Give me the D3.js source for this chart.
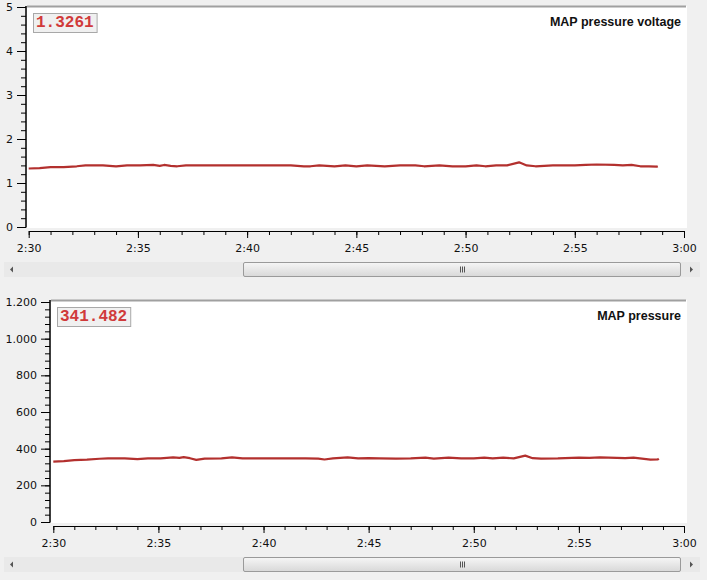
<!DOCTYPE html>
<html>
<head>
<meta charset="utf-8">
<script src="https://cdn.jsdelivr.net/npm/d3@7"></script>
<style>
  body { margin: 0; background: #f0f0f0; }
  svg { display: block; }
  .tick text { font-family: "DejaVu Sans", sans-serif; font-size: 11px; fill: #111; }
</style>
</head>
<body>
<div id="chart"></div>
<script>
// sample times, minutes after 2:30
const sampleMinutes = [0, 0.5, 1.0, 1.6, 2.2, 2.6, 3.4, 4.0, 4.5, 5.1, 5.7, 6.0, 6.2, 6.5, 6.8, 7.2,
  8.0, 8.5, 9.0, 10.0, 11.0, 12.0, 12.6, 12.9, 13.3, 14.0, 14.5, 15.0, 15.5, 16.3, 17.0, 17.7,
  18.1, 18.8, 19.4, 20.0, 20.5, 20.9, 21.4, 21.9, 22.45, 22.8, 23.2, 24.0, 25.0, 25.5, 26.0,
  26.8, 27.2, 27.6, 28.0, 28.4, 28.75, 28.8];

const voltageValues = [1.33, 1.34, 1.36, 1.36, 1.38, 1.40, 1.40, 1.38, 1.40, 1.40, 1.41, 1.39, 1.41, 1.39, 1.38, 1.40,
  1.40, 1.40, 1.40, 1.40, 1.40, 1.40, 1.38, 1.38, 1.40, 1.38, 1.40, 1.38, 1.40, 1.38, 1.40, 1.40,
  1.38, 1.40, 1.38, 1.38, 1.40, 1.38, 1.40, 1.40, 1.47, 1.40, 1.38, 1.40, 1.40, 1.41, 1.42,
  1.41, 1.40, 1.41, 1.38, 1.38, 1.37, 1.38];

const pressureValues = [329, 332, 338, 340, 345, 347, 347, 343, 347, 347, 353, 350, 354, 348, 339, 346,
  347, 353, 347, 347, 347, 347, 346, 341, 347, 352, 347, 348, 347, 346, 347, 351,
  346, 351, 347, 347, 351, 347, 351, 347, 362, 348, 346, 347, 351, 350, 352,
  350, 348, 351, 346, 340, 341, 346];

const voltageTicks = [0, 1, 2, 3, 4, 5];
const pressureTicks = [0, 200, 400, 600, 800, 1000, 1200];
const timeTickLabels = ["2:30", "2:35", "2:40", "2:45", "2:50", "2:55", "3:00"];

const panels = [
  { title: "MAP pressure voltage", readout: "1.3261", values: voltageValues, ticks: voltageTicks,
    minorStep: 0.2, fmt: d3.format("d"),
    plot: { left: 27, right: 687, top: 6, bottom: 228 }, yRange: [227, 7], axisX: 26,
    xAxisY: 231, xRange: [28.7, 684], scrollY: 262 },
  { title: "MAP pressure", readout: "341.482", values: pressureValues, ticks: pressureTicks,
    minorStep: 40,
    fmt: d3.formatLocale({ decimal: ",", thousands: ".", grouping: [3], currency: ["", ""] }).format(",d"),
    plot: { left: 51, right: 687, top: 300, bottom: 523 }, yRange: [522, 302], axisX: 50,
    xAxisY: 526, xRange: [53.3, 684], scrollY: 557 }
];

const svg = d3.select("#chart").append("svg")
  .attr("width", 707)
  .attr("height", 580);

const defs = svg.append("defs");
const grad = defs.append("linearGradient").attr("id", "thumb").attr("x1", 0).attr("x2", 0).attr("y1", 0).attr("y2", 1);
grad.append("stop").attr("offset", "0%").attr("stop-color", "#f6f6f6");
grad.append("stop").attr("offset", "100%").attr("stop-color", "#d8d8d8");

panels.forEach(p => {
  const g = svg.append("g");

  // plot area
  g.append("rect")
    .attr("x", p.plot.left).attr("y", p.plot.top)
    .attr("width", p.plot.right - p.plot.left).attr("height", p.plot.bottom - p.plot.top)
    .attr("fill", "#fff");
  g.append("line")
    .attr("x1", p.plot.left).attr("x2", p.plot.right - 1)
    .attr("y1", p.plot.top + 0.5).attr("y2", p.plot.top + 0.5)
    .attr("stroke", "#a0a0a0").attr("stroke-width", 2);

  const x = d3.scaleLinear().domain([0, 30]).range(p.xRange);
  const y = d3.scaleLinear().domain([0, d3.max(p.ticks)]).range(p.yRange);

  // Y axis, minor ticks first
  g.append("g")
    .attr("transform", `translate(${p.axisX},0)`)
    .call(d3.axisLeft(y).tickValues(d3.range(0, d3.max(p.ticks) + p.minorStep / 2, p.minorStep))
      .tickSize(5).tickSizeOuter(0).tickFormat(""))
    .call(a => a.select(".domain").remove());
  g.append("g")
    .attr("transform", `translate(${p.axisX},0)`)
    .call(d3.axisLeft(y).tickValues(p.ticks).tickSize(9).tickSizeOuter(0).tickPadding(4).tickFormat(p.fmt))
    .call(a => a.select(".domain").attr("d", `M0,${p.yRange[0] + 0.5}V${p.plot.top}`).attr("stroke-width", 1.5));

  // X axis
  g.append("g")
    .attr("transform", `translate(0,${p.xAxisY})`)
    .call(d3.axisBottom(x).tickValues(d3.range(0, 31, 1)).tickSize(4).tickSizeOuter(0).tickFormat(""))
    .call(a => a.select(".domain").remove());
  g.append("g")
    .attr("transform", `translate(0,${p.xAxisY})`)
    .call(d3.axisBottom(x).tickValues(d3.range(0, 31, 5)).tickSize(7).tickSizeOuter(0).tickPadding(6)
      .tickFormat((d, i) => timeTickLabels[i]));

  // series line
  g.append("path")
    .datum(p.values.map((v, i) => [sampleMinutes[i], v]))
    .attr("fill", "none")
    .attr("stroke", "#b3302e")
    .attr("stroke-width", 2.2)
    .attr("stroke-linejoin", "round")
    .attr("d", d3.line().x(d => x(d[0])).y(d => y(d[1])));

  // title
  g.append("text")
    .attr("x", 681).attr("y", p.plot.top + 20)
    .attr("text-anchor", "end")
    .attr("font-family", "Liberation Sans, Arial, sans-serif")
    .attr("font-weight", "bold")
    .attr("font-size", "12.5px")
    .attr("fill", "#111")
    .text(p.title);

  // readout box
  const rb = g.append("g").attr("transform", `translate(${p.plot.left + 6},${p.plot.top + 7})`);
  const rt = rb.append("text")
    .attr("x", 3).attr("y", 14)
    .attr("font-family", "Liberation Mono, Courier New, monospace")
    .attr("font-weight", "bold")
    .attr("font-size", "16px")
    .attr("fill", "#d03a3a")
    .text(p.readout);
  const w = rt.node().getComputedTextLength() + 6;
  rb.insert("rect", "text")
    .attr("x", 0.5).attr("y", 0.5).attr("width", w).attr("height", 19)
    .attr("fill", "#f0f0f0").attr("stroke", "#a8a8a8");

  // scrollbar
  const sb = g.append("g").attr("transform", `translate(0,${p.scrollY})`);
  sb.append("rect").attr("x", 4).attr("y", 0).attr("width", 696).attr("height", 15).attr("fill", "#e9e9e9");
  sb.append("path").attr("d", "M10,7.5l3,-3v6z").attr("fill", "#555");
  sb.append("path").attr("d", "M693,7.5l-3,-3v6z").attr("fill", "#555");
  sb.append("rect").attr("x", 243.5).attr("y", 0.5).attr("width", 437).attr("height", 14)
    .attr("rx", 1.5).attr("fill", "url(#thumb)").attr("stroke", "#9a9a9a");
  [-2, 0, 2].forEach(dx => sb.append("line")
    .attr("x1", 462 + dx + 0.5).attr("x2", 462 + dx + 0.5).attr("y1", 4.5).attr("y2", 10.5)
    .attr("stroke", "#555"));
});
</script>
</body>
</html>
